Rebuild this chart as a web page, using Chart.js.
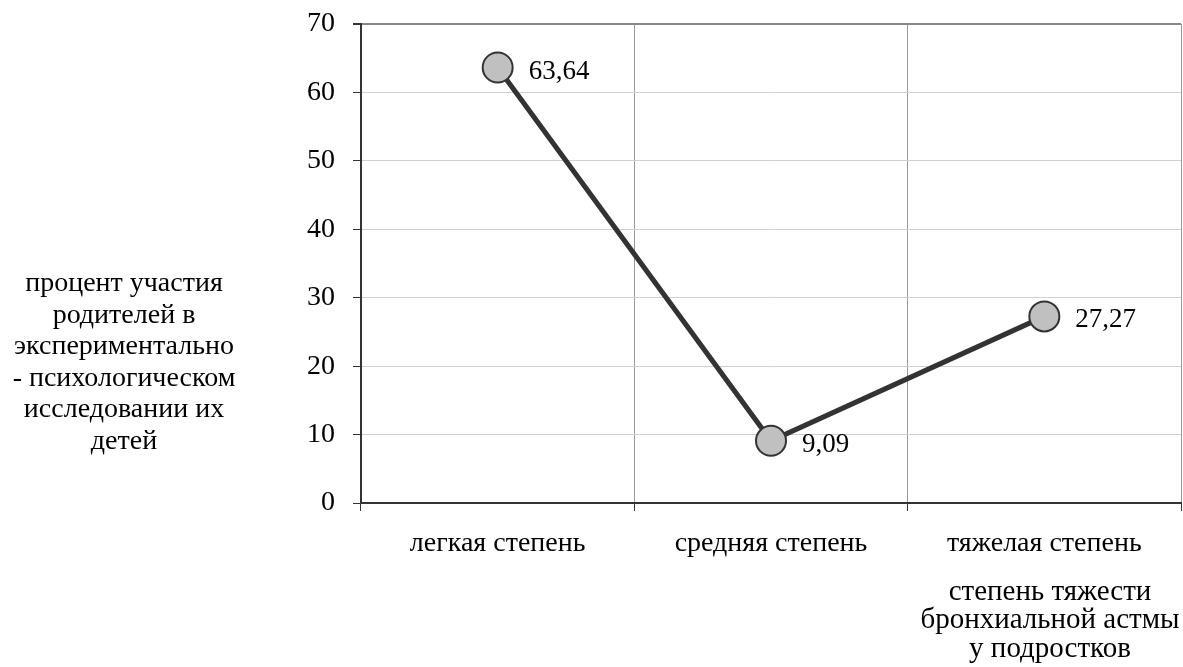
<!DOCTYPE html>
<html>
<head>
<meta charset="utf-8">
<script src="https://cdn.jsdelivr.net/npm/chart.js@4/dist/chart.umd.min.js"></script>
<style>
  html, body { margin: 0; padding: 0; background: #fff; overflow: hidden; }
  canvas { display: block; }
</style>
</head>
<body>
<canvas id="severityChart" width="1183" height="667"></canvas>
<script>
// data
let categories = ['легкая степень', 'средняя степень', 'тяжелая степень'];
let participation = [63.64, 9.09, 27.27];
let pointLabels = ['63,64', '9,09', '27,27'];
let yTitleLines = ['процент участия', 'родителей в', 'экспериментально', '- психологическом', 'исследовании их', 'детей'];
let xTitleLines = ['степень тяжести', 'бронхиальной астмы', 'у подростков'];

let fontFamily = '"Liberation Serif", "Times New Roman", serif';

// draws value labels next to points and the two axis titles
let extras = {
    id: 'extras',
    afterDatasetsDraw(chart) {
        let ctx = chart.ctx;
        ctx.save();
        ctx.fillStyle = '#000';
        ctx.font = '27px ' + fontFamily;
        ctx.textAlign = 'left';
        ctx.textBaseline = 'middle';
        let meta = chart.getDatasetMeta(0);
        meta.data.forEach((pt, i) => {
            ctx.fillText(pointLabels[i], pt.x + 31, pt.y + 4);
        });

        ctx.textAlign = 'center';
        ctx.font = '28px ' + fontFamily;
        yTitleLines.forEach((line, i) => {
            ctx.fillText(line, 124, 284 + i * 31.5);
        });
        ctx.font = '29px ' + fontFamily;
        xTitleLines.forEach((line, i) => {
            ctx.fillText(line, 1050, 592 + i * 28.5);
        });
        ctx.restore();
    }
};

// no extra room for overhanging tick labels, the plot box is fixed by layout padding
let noPad = s => {
    s.paddingLeft = 0;
    s.paddingRight = 0;
    s.paddingTop = 0;
    s.paddingBottom = 0;
};

let ctx = document.getElementById('severityChart').getContext('2d');
var chart = new Chart(ctx, {
    type: 'line',
    data: {
        labels: categories,
        datasets: [{
            data: participation,
            borderColor: '#333333',
            borderWidth: 5,
            pointRadius: 15,
            pointHoverRadius: 15,
            pointBackgroundColor: '#c0c0c0',
            pointBorderColor: '#333333',
            pointBorderWidth: 2,
            tension: 0
        }]
    },
    options: {
        responsive: false,
        animation: false,
        devicePixelRatio: 1,
        layout: { autoPadding: false, padding: { top: 24, right: 2, left: 0, bottom: 0 } },
        plugins: {
            legend: { display: false },
            tooltip: { enabled: false }
        },
        scales: {
            x: {
                offset: true,
                afterFit: s => { s.height = 164; noPad(s); },
                grid: {
                    offset: true,
                    color: c => (c.index === categories.length ? '#888888' : '#999999'),
                    lineWidth: c => (c.index === categories.length ? 2 : 1),
                    tickColor: '#333333',
                    tickLength: 8
                },
                border: { color: '#333333', width: 2 },
                ticks: {
                    color: '#000',
                    padding: 16,
                    font: { family: fontFamily, size: 28 }
                }
            },
            y: {
                min: 0,
                max: 70,
                afterFit: s => { s.width = 361; noPad(s); },
                grid: {
                    color: c => (c.tick && c.tick.value === 70 ? '#888888' : '#d0d0d0'),
                    lineWidth: c => (c.tick && c.tick.value === 70 ? 2 : 1),
                    tickColor: '#333333',
                    tickLength: 8
                },
                border: { color: '#333333', width: 2 },
                ticks: {
                    stepSize: 10,
                    color: '#000',
                    padding: 18,
                    font: { family: fontFamily, size: 28 }
                }
            }
        }
    },
    plugins: [extras]
});
</script>
</body>
</html>
